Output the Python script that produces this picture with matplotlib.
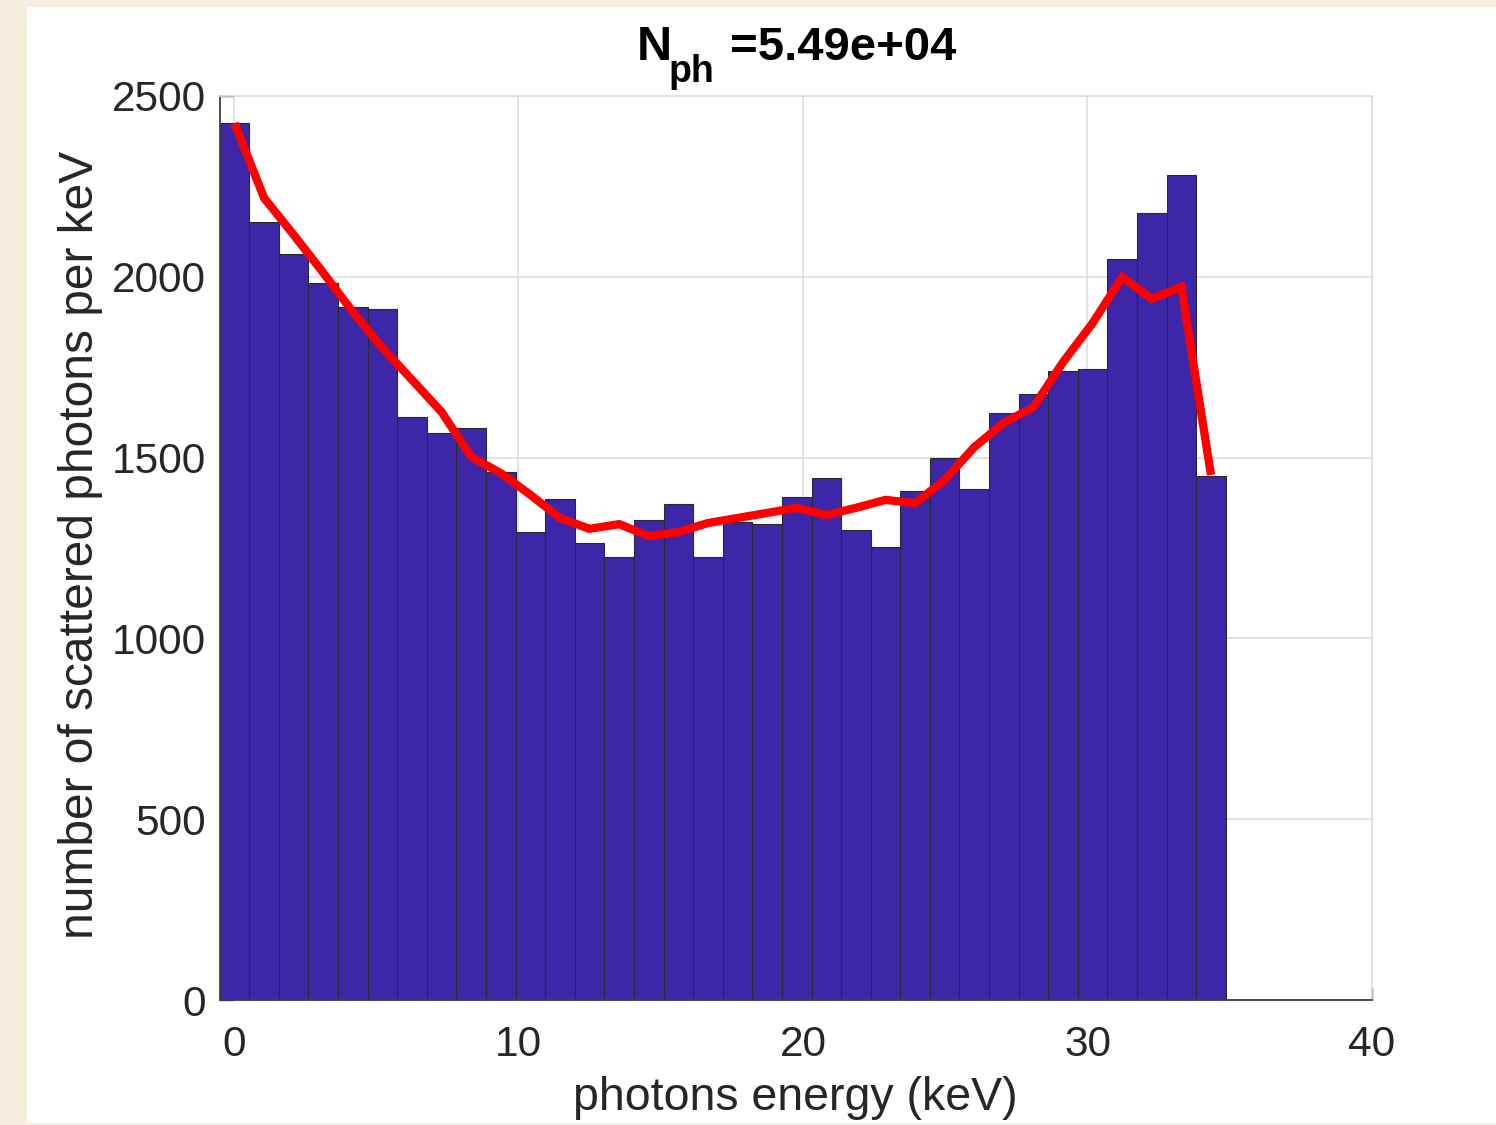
import numpy as np
import matplotlib
matplotlib.use("Agg")
import matplotlib.pyplot as plt
from matplotlib.patches import Rectangle

# Histogram of scattered photon energies (counts per keV)
bin_left = -0.5
bin_width = 1.04
counts = [2424, 2152, 2063, 1982, 1917, 1912, 1613, 1567, 1581, 1459,
          1293, 1385, 1265, 1224, 1327, 1372, 1224, 1323, 1316, 1390,
          1443, 1300, 1253, 1408, 1498, 1412, 1624, 1675, 1740, 1744,
          2048, 2176, 2281, 1449]
# Smoothed spectrum evaluated at bin centres
smooth = [2425, 2218, 2116, 2011, 1903, 1803, 1715, 1626, 1502, 1457,
          1397, 1333, 1303, 1316, 1283, 1294, 1319, 1333, 1347, 1361,
          1341, 1361, 1383, 1374, 1438, 1529, 1596, 1640, 1764, 1872,
          1999, 1939, 1972, 1452]
xticks = [0, 10, 20, 30, 40]
yticks = [0, 500, 1000, 1500, 2000, 2500]
n_photons = 5.49e4

plt.rcParams['font.family'] = ['Liberation Sans', 'DejaVu Sans']

W, H = 1496, 1125
fig = plt.figure(figsize=(W / 100, H / 100), dpi=100)
fig.patch.set_facecolor('#f6efdf')
fig.patches.append(Rectangle((27 / W, 1 - 1123 / H), 1 - 27 / W, (1123 - 7) / H,
                             transform=fig.transFigure, facecolor='white',
                             edgecolor='none', zorder=-10))

ax = fig.add_axes([220 / W, 1 - 1000 / H, (1372 - 220) / W, (1000 - 96) / H])
ax.set_facecolor('white')

n = len(counts)
edges = bin_left + bin_width * np.arange(n + 1)
centers = 0.5 * (edges[:-1] + edges[1:])

ax.bar(edges[:-1], counts, width=bin_width, align='edge',
       color='#3d26a8', edgecolor='#2a2a2a', linewidth=0.8, zorder=2)
ax.plot(centers, smooth, color='#ff0000', linewidth=6.0, zorder=3,
        solid_joinstyle='miter', solid_capstyle='butt')

ax.set_xlim(-0.49, 40)
ax.set_ylim(0, 2500)
ax.set_xticks(xticks)
ax.set_yticks(yticks)
ax.set_axisbelow(True)
ax.grid(True, color='#dedede', linewidth=1.2)

text_col = '#262626'
ax.tick_params(direction='in', length=9, width=1.0, colors=text_col,
               labelsize=30.5, pad=10)
ax.tick_params(axis='x', pad=18)
for s in ('left', 'bottom'):
    ax.spines[s].set_color('#404040')
    ax.spines[s].set_linewidth(1.3)
for s in ('top', 'right'):
    ax.spines[s].set_color('#dcdcdc')
    ax.spines[s].set_linewidth(1.2)

ax.set_xlabel('photons energy (keV)', fontsize=33.5, color=text_col)
ax.set_ylabel('number of scattered photons per keV', fontsize=34.5,
              color=text_col)
ax.xaxis.set_label_coords(0.499, -0.084)
ax.yaxis.set_label_coords(-0.1016, 0.503)

# Title: N with subscript "ph", followed by the photon count
def px(x, y):
    return x / W, 1 - y / H

fig.text(*px(637, 60), 'N', fontsize=35, fontweight='bold', color='black',
         ha='left', va='baseline')
fig.text(*px(669, 82), 'ph', fontsize=27, fontweight='bold', color='black',
         ha='left', va='baseline')
fig.text(*px(730, 60), f'={n_photons:.2e}', fontsize=34, fontweight='bold',
         color='black', ha='left', va='baseline')

fig.savefig('out.png', dpi=100, facecolor=fig.get_facecolor())
